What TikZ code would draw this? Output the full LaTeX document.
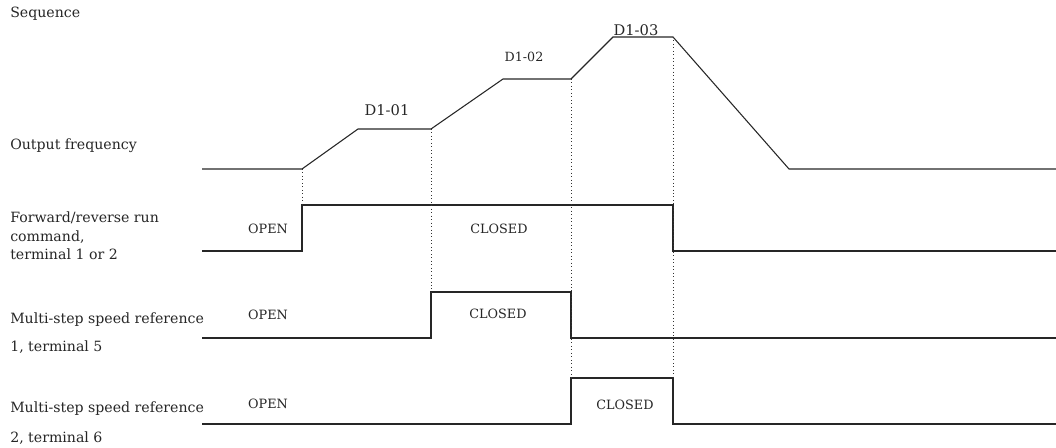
\documentclass[tikz,border=0pt]{standalone}
\usepackage{fontspec}
\setmainfont{DejaVu Serif}
\newcommand\tfont{\fontsize{9.6}{11}\selectfont}
\newcommand\lfont{\fontsize{10.6}{12}\selectfont}
\newcommand\pfont{\fontsize{11}{13}\selectfont}
\newcommand\sfont{\fontsize{9.5}{11}\selectfont}
\begin{document}
\begin{tikzpicture}[x=0.75pt,y=-0.75pt,sig/.style={line width=0.8pt,black!85},guide/.style={dotted,line width=0.6pt,black!80},lbl/.style={anchor=base west,inner sep=0pt,font=\lfont,black!85},st/.style={inner sep=0pt,font=\tfont,black!85},par/.style={anchor=base,inner sep=0pt,font=\pfont,black!85}]
\useasboundingbox (0,0) rectangle (1056,448);
% row labels
\node[lbl](seq) at (10,18){Sequence};
\node[lbl](freq) at (10,150){Output frequency};
\node[lbl](run1) at (10,223){Forward/reverse run};
\node[lbl](run2) at (10,242){command,};
\node[lbl](run3) at (10,260){terminal 1 or 2};
\node[lbl](ms1a) at (10,324){Multi-step speed reference};
\node[lbl](ms1b) at (10,352){1, terminal 5};
\node[lbl](ms2a) at (10,413){Multi-step speed reference};
\node[lbl](ms2b) at (10,443){2, terminal 6};
% output frequency
\draw[sig](202,169)--(302,169)--(358,129)--(431,129)--(503,79)--(571,79)--(613,37)--(673,37)--(789,169)--(1056,169);
\node[par](d1) at (387,116){D1-01};
\node[par,font=\sfont](d2) at (524,62){D1-02};
\node[par](d3) at (636,36){D1-03};
% switching signals
\draw[sig](202,251)--(302,251)--(302,205)--(673,205)--(673,251)--(1056,251);
\draw[sig](202,338)--(431,338)--(431,292)--(571,292)--(571,338)--(1056,338);
\draw[sig](202,424)--(571,424)--(571,378)--(673,378)--(673,424)--(1056,424);
\node[st](runopen) at (268,229){OPEN};
\node[st](runclosed) at (499,229){CLOSED};
\node[st](ms1open) at (268,315){OPEN};
\node[st](ms1closed) at (498,314){CLOSED};
\node[st](ms2open) at (268,404){OPEN};
\node[st](ms2closed) at (625,405){CLOSED};
% timing guides
\draw[guide](302,169)--(302,205);
\draw[guide](431,129)--(431,292);
\draw[guide](571,79)--(571,378);
\draw[guide](673,37)--(673,378);
\end{tikzpicture}
\end{document}
